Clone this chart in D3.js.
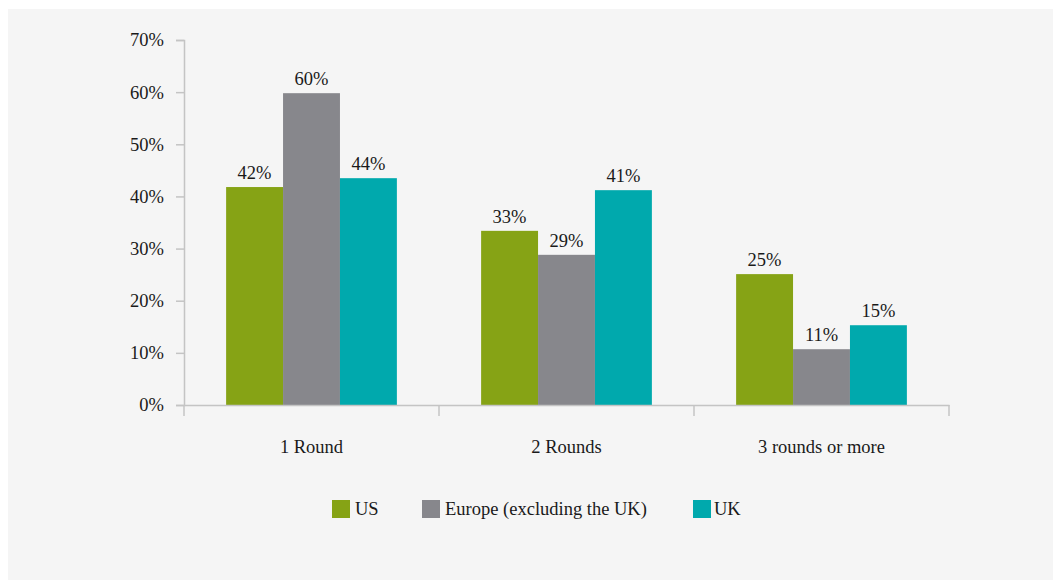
<!DOCTYPE html>
<html>
<head>
<meta charset="utf-8">
<script src="https://cdn.jsdelivr.net/npm/d3@7"></script>
<style>
  body { margin: 0; background: #fff; }
  svg { display: block; font-family: "Liberation Serif", serif; }
</style>
</head>
<body>
<svg width="1053" height="581"></svg>
<script>
// data
var categories = ['1 Round', '2 Rounds', '3 rounds or more'];
var seriesNames = ['US', 'Europe (excluding the UK)', 'UK'];
var usValues = [41.8, 33.4, 25.1];
var europeValues = [59.8, 28.8, 10.7];
var ukValues = [43.5, 41.2, 15.3];
var yTicks = [0, 10, 20, 30, 40, 50, 60, 70];
var colors = ['#86a315', '#87878c', '#00a9ad'];

var series = [usValues, europeValues, ukValues];
var svg = d3.select('svg');
var fontSize = 18.5;

// panel
svg.append('rect')
    .attr('x', 8).attr('y', 9)
    .attr('width', 1045).attr('height', 571)
    .attr('fill', '#f5f5f5');

var plotLeft = 184, plotRight = 949, plotTop = 40, plotBottom = 405;

var x = d3.scaleBand()
    .domain(categories)
    .range([plotLeft, plotRight])
    .paddingInner(0)
    .paddingOuter(0);

var xs = d3.scaleBand()
    .domain(seriesNames)
    .range([0, x.bandwidth()])
    .paddingOuter(0.74);

var y = d3.scaleLinear()
    .domain([0, 70])
    .range([plotBottom, plotTop]);

// y axis
var yAxis = svg.append('g')
    .attr('transform', 'translate(' + plotLeft + ',0)')
    .call(d3.axisLeft(y).tickValues(yTicks).tickSize(8).tickSizeOuter(8)
        .tickFormat(function(d) { return d + '%'; }));
yAxis.selectAll('path, line').attr('stroke', '#c4c4c4').attr('stroke-width', 1.5);
yAxis.selectAll('text')
    .attr('x', -20)
    .attr('font-size', fontSize)
    .attr('font-family', '"Liberation Serif", serif')
    .attr('fill', '#1a1a1a');

// bars
categories.forEach(function(cat, ci) {
    var g = svg.append('g')
        .attr('transform', 'translate(' + x(cat) + ',0)');

    var bars = g.selectAll('.bar')
        .data(seriesNames.map(function(name, si) {
            return { name: name, value: series[si][ci], color: colors[si] };
        }));

    var barEnter = bars.enter().append('g').attr('class', 'bar');

    barEnter.append('rect')
        .attr('x', function(d) { return xs(d.name); })
        .attr('y', function(d) { return y(d.value); })
        .attr('width', xs.bandwidth())
        .attr('height', function(d) { return plotBottom - y(d.value); })
        .attr('fill', function(d) { return d.color; });

    barEnter.append('text')
        .attr('x', function(d) { return xs(d.name) + xs.bandwidth() / 2; })
        .attr('y', function(d) { return y(d.value) - 8; })
        .attr('text-anchor', 'middle')
        .attr('font-size', fontSize)
        .attr('fill', '#1a1a1a')
        .text(function(d) { return Math.round(d.value) + '%'; });
});

// x axis
var xAxis = svg.append('g')
    .attr('transform', 'translate(0,' + plotBottom + ')')
    .call(d3.axisBottom(x).tickSize(0).tickSizeOuter(0));
xAxis.select('.domain').attr('stroke', '#c4c4c4').attr('stroke-width', 1.5);
xAxis.selectAll('text')
    .attr('dy', 0)
    .attr('y', 48)
    .attr('font-size', fontSize)
    .attr('font-family', '"Liberation Serif", serif')
    .attr('fill', '#1a1a1a');

// category separators
var seps = [plotLeft].concat(categories.map(function(c) { return x(c) + x.bandwidth(); }));
svg.selectAll('.sep')
    .data(seps)
    .enter().append('line')
    .attr('class', 'sep')
    .attr('x1', function(d) { return d; })
    .attr('x2', function(d) { return d; })
    .attr('y1', plotBottom)
    .attr('y2', plotBottom + 11)
    .attr('stroke', '#c4c4c4')
    .attr('stroke-width', 1.5);

// legend
var legendX = [332, 422, 693];
var legend = svg.selectAll('.legend')
    .data(seriesNames)
    .enter().append('g')
    .attr('class', 'legend')
    .attr('transform', function(d, i) { return 'translate(' + legendX[i] + ',500)'; });

legend.append('rect')
    .attr('width', 18).attr('height', 18)
    .attr('fill', function(d, i) { return colors[i]; });

legend.append('text')
    .attr('x', function(d, i) { return i === 2 ? 21 : 23; })
    .attr('y', 15)
    .attr('font-size', fontSize)
    .attr('fill', '#1a1a1a')
    .text(function(d) { return d; });
</script>
</body>
</html>
